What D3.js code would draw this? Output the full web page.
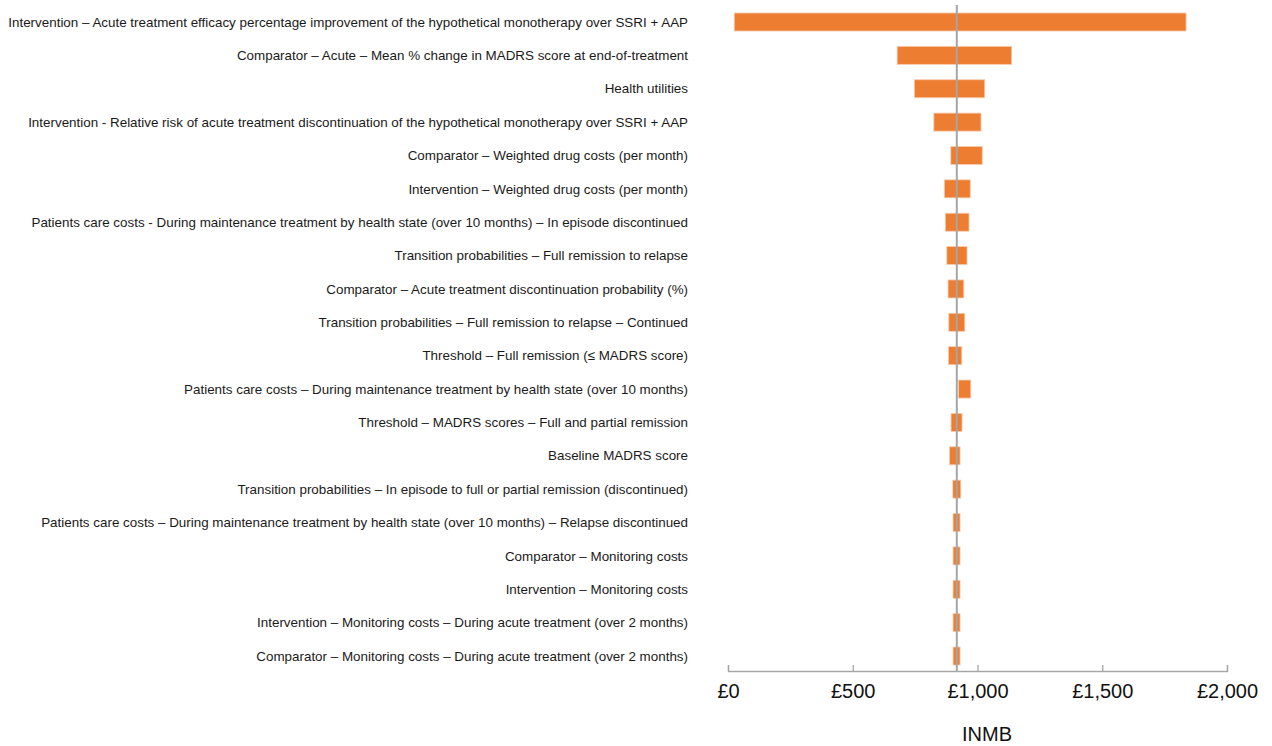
<!DOCTYPE html>
<html>
<head>
<meta charset="utf-8">
<script src="https://cdn.jsdelivr.net/npm/d3@7"></script>
<style>
  body { margin: 0; background: #fff; }
  svg { display: block; }
</style>
</head>
<body>
<div id="chart"></div>
<script>
// parameters, top to bottom
const parameters = [
  "Intervention – Acute treatment efficacy percentage improvement of the hypothetical monotherapy over SSRI + AAP",
  "Comparator – Acute – Mean % change in MADRS score at end-of-treatment",
  "Health utilities",
  "Intervention - Relative risk of acute treatment discontinuation of the hypothetical monotherapy over SSRI + AAP",
  "Comparator – Weighted drug costs (per month)",
  "Intervention – Weighted drug costs (per month)",
  "Patients care costs - During maintenance treatment by health state (over 10 months) – In episode discontinued",
  "Transition probabilities – Full remission to relapse",
  "Comparator – Acute treatment discontinuation probability (%)",
  "Transition probabilities – Full remission to relapse – Continued",
  "Threshold – Full remission (≤ MADRS score)",
  "Patients care costs – During maintenance treatment by health state (over 10 months)",
  "Threshold – MADRS scores – Full and partial remission",
  "Baseline MADRS score",
  "Transition probabilities – In episode to full or partial remission (discontinued)",
  "Patients care costs – During maintenance treatment by health state (over 10 months) – Relapse discontinued",
  "Comparator – Monitoring costs",
  "Intervention – Monitoring costs",
  "Intervention – Monitoring costs – During acute treatment (over 2 months)",
  "Comparator – Monitoring costs – During acute treatment (over 2 months)"
];

// INMB range (£) for each parameter
const lowValues  = [25, 678, 747, 825, 893, 867, 871, 877, 882, 885, 884, 924, 894, 888, 901, 902, 902, 902, 902, 902];
const highValues = [1836, 1137, 1029, 1014, 1019, 971, 966, 958, 945, 949, 937, 973, 938, 930, 933, 930, 930, 930, 930, 930];

const baseCase = 917;
const xTicks = [0, 500, 1000, 1500, 2000];

const width = 1272, height = 746;
const margin = {top: 22, right: 45, bottom: 75, left: 728};

const rows = parameters.map((p, i) => ({name: p, low: lowValues[i], high: highValues[i]}));

const svg = d3.select("#chart").append("svg")
  .attr("width", width)
  .attr("height", height)
  .style("font-family", "'Liberation Sans', Arial, sans-serif");

const x = d3.scaleLinear()
  .domain([0, 2000])
  .range([margin.left, width - margin.right]);

const y = d3.scalePoint()
  .domain(parameters)
  .range([margin.top, 656]);

const barHeight = 18;
const axisY = 671;

// bars
svg.selectAll("rect.bar")
  .data(rows).enter()
  .append("rect")
  .classed("bar", true)
  .attr("x", d => x(d.low))
  .attr("y", d => y(d.name) - barHeight / 2)
  .attr("width", d => x(d.high) - x(d.low))
  .attr("height", barHeight)
  .attr("fill", "#ed7d31")
  .attr("stroke", "#f8cbad")
  .attr("stroke-width", 0.8);

// parameter labels
svg.selectAll("text.label")
  .data(rows).enter()
  .append("text")
  .classed("label", true)
  .attr("x", 688)
  .attr("y", d => y(d.name))
  .attr("dy", "0.35em")
  .attr("text-anchor", "end")
  .style("font-size", "13.4px")
  .attr("fill", "#1a1a1a")
  .text(d => d.name);

// base case line
svg.append("line")
  .attr("x1", x(baseCase))
  .attr("x2", x(baseCase))
  .attr("y1", 5)
  .attr("y2", axisY)
  .attr("stroke", "#a6a6a6")
  .attr("stroke-width", 2);

// x axis
const axis = svg.append("g")
  .attr("transform", `translate(0,${axisY})`)
  .call(d3.axisTop(x)
    .tickValues(xTicks)
    .tickSize(6)
    .tickFormat(d => "£" + d3.format(",")(d)));

axis.select(".domain").attr("stroke", "#a6a6a6").attr("stroke-width", 1.3);
axis.selectAll(".tick line").attr("stroke", "#a6a6a6").attr("stroke-width", 1.3);
axis.selectAll(".tick text")
  .attr("y", 20)
  .attr("dy", "0.35em")
  .attr("fill", "#111")
  .style("font-size", "20px")
  .style("font-family", "'Liberation Sans', Arial, sans-serif");

// axis title
svg.append("text")
  .attr("x", 987)
  .attr("y", 734)
  .attr("dy", "0.35em")
  .attr("text-anchor", "middle")
  .style("font-size", "20px")
  .attr("fill", "#111")
  .text("INMB");
</script>
</body>
</html>
